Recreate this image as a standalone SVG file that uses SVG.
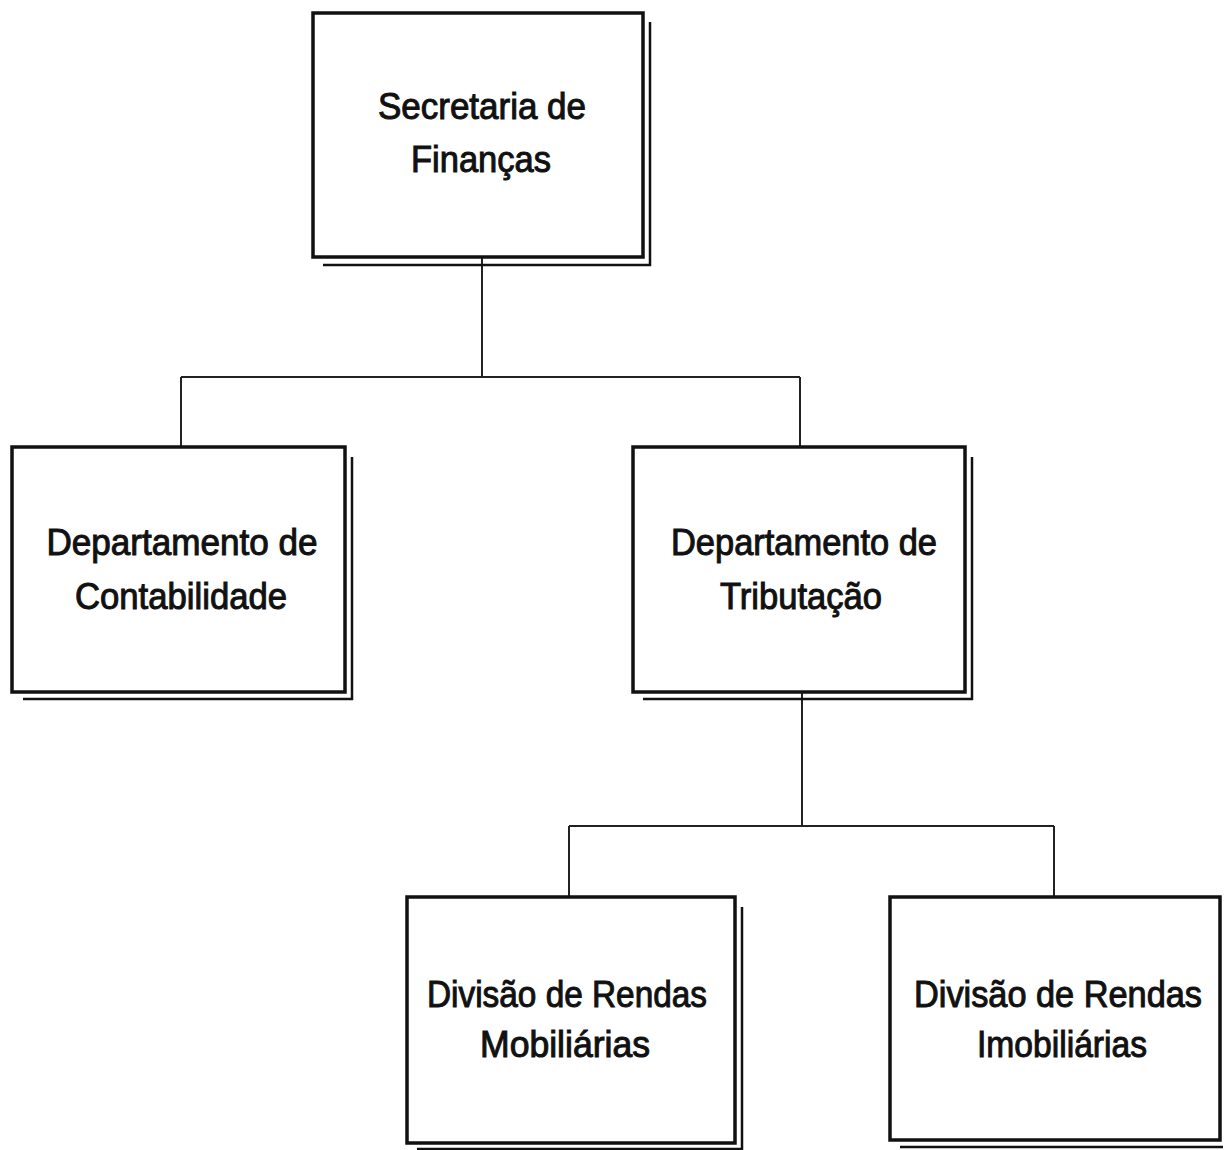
<svg xmlns="http://www.w3.org/2000/svg" width="1224" height="1150" viewBox="0 0 1224 1150">
<style>
.box{fill:#fff;stroke:#111;stroke-width:3.5}
.shd{fill:none;stroke:#111;stroke-width:2.5}
.con{fill:none;stroke:#222;stroke-width:2}
text{font-family:"Liberation Sans",Arial,sans-serif;font-size:36px;fill:#111;text-anchor:middle;stroke:#111;stroke-width:1}
</style>
<rect width="1224" height="1150" fill="#fff"/>
<g id="connectors">
<path class="con" d="M482,258 V377 M181,377 H800 M181,377 V447 M800,377 V447"/>
<path class="con" d="M802,692 V826 M569,826 H1054 M569,826 V897 M1054,826 V897"/>
</g>
<g id="n1">
<path class="shd" d="M323,265 H650 V22"/>
<rect class="box" x="313" y="13" width="330" height="244"/>
<text x="482" y="119" textLength="208" lengthAdjust="spacingAndGlyphs">Secretaria de</text>
<text x="481" y="172" textLength="140" lengthAdjust="spacingAndGlyphs">Finanças</text>
</g>
<g id="n2">
<path class="shd" d="M23,699 H352 V457"/>
<rect class="box" x="12" y="447" width="333" height="245"/>
<text x="182" y="555" textLength="271" lengthAdjust="spacingAndGlyphs">Departamento de</text>
<text x="181" y="609" textLength="212" lengthAdjust="spacingAndGlyphs">Contabilidade</text>
</g>
<g id="n3">
<path class="shd" d="M643,699 H972 V457"/>
<rect class="box" x="633" y="447" width="332" height="245"/>
<text x="804" y="555" textLength="266" lengthAdjust="spacingAndGlyphs">Departamento de</text>
<text x="801" y="609" textLength="162" lengthAdjust="spacingAndGlyphs">Tributação</text>
</g>
<g id="n4">
<path class="shd" d="M417,1149 H742 V907"/>
<rect class="box" x="407" y="897" width="328" height="246"/>
<text x="567" y="1007" textLength="280" lengthAdjust="spacingAndGlyphs">Divisão de Rendas</text>
<text x="565" y="1057" textLength="170" lengthAdjust="spacingAndGlyphs">Mobiliárias</text>
</g>
<g id="n5">
<path class="shd" d="M900,1147 H1223"/>
<rect class="box" x="890" y="897" width="330" height="243"/>
<text x="1058" y="1007" textLength="288" lengthAdjust="spacingAndGlyphs">Divisão de Rendas</text>
<text x="1062" y="1057" textLength="170" lengthAdjust="spacingAndGlyphs">Imobiliárias</text>
</g>
</svg>
